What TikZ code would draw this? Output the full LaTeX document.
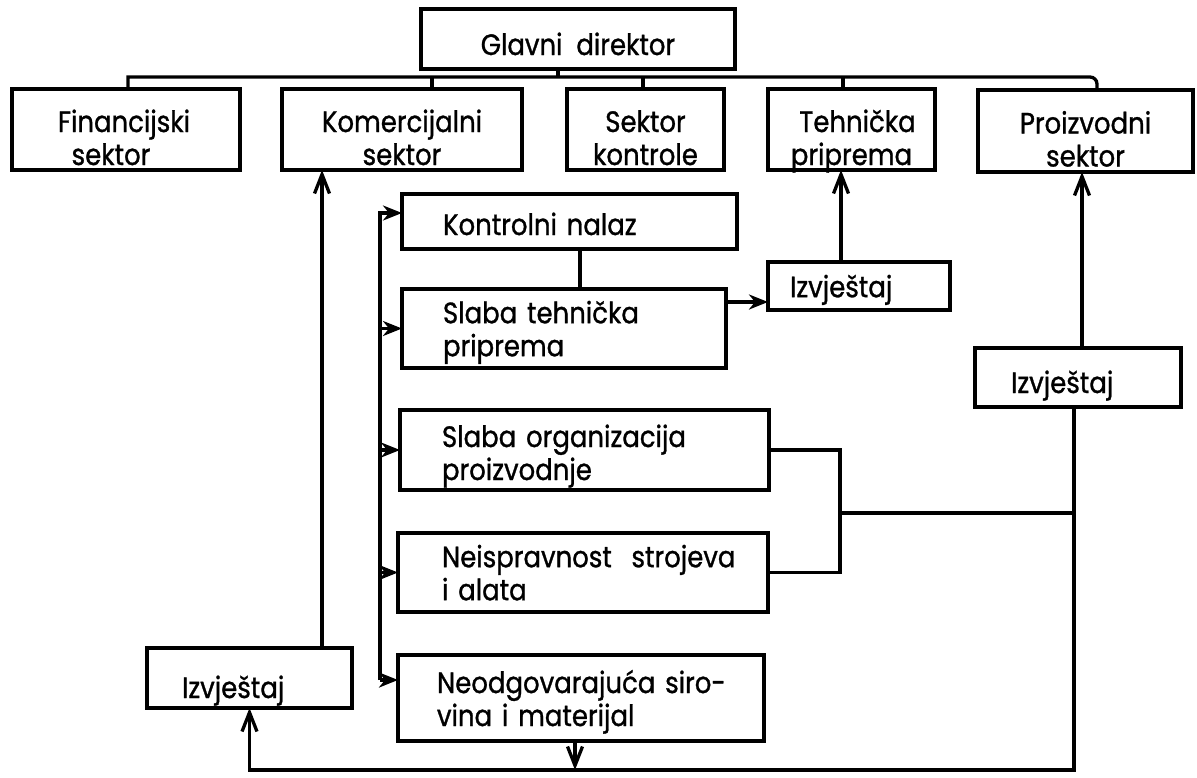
\documentclass[tikz,border=0pt]{standalone}
\usepackage{fontspec}
\setmainfont{Poppins}[FakeStretch=0.88, FakeBold=1]
\usetikzlibrary{arrows.meta}
\newcommand{\twoc}[3]{\rule{0pt}{#1pt}#2\\\raisebox{0pt}[\height][0pt]{#3}}
\newcommand{\twol}[3]{\rule{0pt}{#1pt}\makebox[0pt][l]{#2}\\\raisebox{0pt}[\height][0pt]{\makebox[0pt][l]{#3}}}
\newcommand{\onel}[2]{\rule{0pt}{#1pt}\raisebox{0pt}[\height][0pt]{\makebox[0pt][l]{#2}}}
\begin{document}
\begin{tikzpicture}[x=1pt,y=-1pt,
  every node/.style={font=\fontsize{29.5}{33}\selectfont},
  box/.style={draw, line width=4pt, anchor=north west, inner ysep=0pt, outer sep=0pt},
  cbox/.style={box, align=center},
  lbox/.style={box, align=left},
  ln/.style={line width=3.3pt},
  arr/.style={ln, -{Stealth[length=19pt,width=15pt,inset=6pt]}},
  uarr/.style={ln, -{Straight Barb[length=19pt,width=15pt]}}
]
\useasboundingbox (0,0) rectangle (1197,777);

% top level
\node[cbox, minimum width=314pt, minimum height=60pt] (G) at (421,9) {\rule{0pt}{32pt}\raisebox{0pt}[\height][0pt]{Glavni\ \ direktor}};
\node[cbox, minimum width=228pt, minimum height=81pt] (F) at (12,89) {\twoc{38}{Financijski\hspace*{4pt}}{sektor\hspace*{30pt}}};
\node[cbox, minimum width=240pt, minimum height=81pt] (K) at (282,89) {\twoc{38}{Komercijalni}{sektor}};
\node[cbox, minimum width=157pt, minimum height=81pt] (S) at (567,89) {\twoc{38}{Sektor}{kontrole}};
\node[cbox, minimum width=167pt, minimum height=81pt] (T) at (768,89) {\twoc{38}{\hspace*{12pt}Tehnička}{priprema}};
\node[cbox, minimum width=215pt, minimum height=82pt] (P) at (978,90) {\twoc{38}{Proizvodni}{sektor}};

% lower boxes
\node[lbox, minimum width=335pt, minimum height=55pt, inner xsep=41pt, text width=253pt] (KN) at (402,194) {\onel{27}{Kontrolni nalaz}};
\node[lbox, minimum width=324pt, minimum height=79pt, inner xsep=41pt, text width=242pt] (ST) at (402,289) {\twol{20}{Slaba tehnička}{priprema}};
\node[lbox, minimum width=182pt, minimum height=48pt, inner xsep=22pt, text width=138pt] (I1) at (768,262) {\onel{20}{Izvještaj}};
\node[lbox, minimum width=206pt, minimum height=59pt, inner xsep=36pt, text width=134pt] (I2) at (975,348) {\onel{31}{Izvještaj}};
\node[lbox, minimum width=369pt, minimum height=80pt, inner xsep=42pt, text width=285pt] (SO) at (400,410) {\twol{27}{Slaba organizacija}{proizvodnje}};
\node[lbox, minimum width=370pt, minimum height=79pt, inner xsep=44pt, text width=282pt] (N) at (398,533) {\twol{22}{Neispravnost\ \ strojeva}{i alata}};
\node[lbox, minimum width=366pt, minimum height=86pt, inner xsep=39pt, text width=288pt] (NO) at (398,655) {\twol{23}{Neodgovarajuća siro-}{vina i materijal}};
\node[lbox, minimum width=205pt, minimum height=60pt, inner xsep=35pt, text width=135pt] (I3) at (147,648) {\onel{40}{Izvještaj}};

% helper coordinates
\coordinate (busL) at (128,77);
\coordinate (busR) at (1097,77);
\coordinate (xG) at (558,0);
\coordinate (xKs) at (432,0);
\coordinate (xSs) at (643,0);
\coordinate (xTs) at (843,0);
\coordinate (ft) at (380,213);
\coordinate (fb) at (380,680);
\coordinate (bx) at (840,0);
\coordinate (bj) at (840,513);
\coordinate (rx) at (1074,0);
\coordinate (bot) at (0,770);
\coordinate (xNO) at (575,0);
\coordinate (xT) at (841,0);
\coordinate (xP) at (1082,0);
\coordinate (xk) at (580,0);
\coordinate (yst) at (0,302);
\coordinate (xK) at (322,0);

% bus
\draw[ln] (F.north -| busL) -- (busL) [rounded corners=7pt] -- (busR) -- (P.north -| busR);
\draw[ln] (G.south -| xG) -- (xG |- busL);
\draw[ln] (K.north -| xKs) -- (xKs |- busL);
\draw[ln] (S.north -| xSs) -- (xSs |- busL);
\draw[ln] (T.north -| xTs) -- (xTs |- busL);

% feeder
\draw[arr] (fb) -- (ft) -- (KN.west |- ft);
\draw[arr] (ft |- ST.west) -- (ST.west);
\draw[arr] (ft |- SO.west) -- (SO.west);
\draw[arr] (ft |- N.west) -- (N.west);
\draw[arr] (fb) -- (NO.west |- fb);

% links
\draw[ln] (KN.south -| xk) -- (ST.north -| xk);
\draw[arr] (ST.east |- yst) -- (I1.west |- yst);
\draw[uarr] (I1.north -| xT) -- (T.south -| xT);
\draw[uarr] (I2.north -| xP) -- (P.south -| xP);
\draw[uarr] (I3.north -| xK) -- (K.south -| xK);

% bracket
\draw[ln] (SO.east) -| (bx |- N.east) -- (N.east);
\draw[ln] (bj) -- (bj -| rx);

% bottom loop
\draw[uarr] (I2.south -| rx) -- (rx |- bot) -- (I3.south |- bot) -- (I3.south);
\draw[uarr] (NO.south -| xNO) -- (xNO |- bot);
\end{tikzpicture}
\end{document}
